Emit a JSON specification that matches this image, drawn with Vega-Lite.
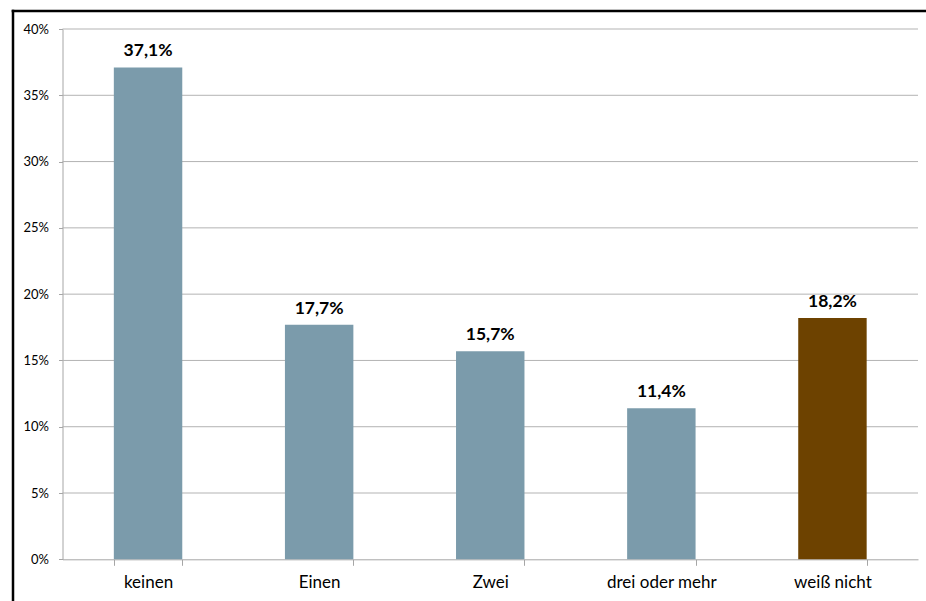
{
  "$schema": "https://vega.github.io/schema/vega-lite/v6.json",
  "width": 913,
  "height": 590,
  "autosize": {"type": "none"},
  "padding": {"left": 13, "top": 11, "right": 0, "bottom": 0},
  "background": "white",
  "view": {"stroke": null},
  "config": {
    "view": {"stroke": null},
    "locale": {"number": {"decimal": ",", "thousands": ".", "grouping": [3], "currency": ["", " €"]}},
    "font": "Lato"
  },
  "layer": [
    {
      "layer": [
        {
          "data": {"values": [{"g": 0.05}, {"g": 0.1}, {"g": 0.15}, {"g": 0.2}, {"g": 0.25}, {"g": 0.3}, {"g": 0.35}, {"g": 0.4}]},
          "mark": {"type": "rule", "color": "#b3b3b3", "strokeWidth": 1},
          "encoding": {
            "y": {"field": "g", "type": "quantitative", "scale": {"domain": [0, 0.4], "range": [548.3, 18], "nice": false, "zero": false}, "axis": null},
            "x": {"datum": 0, "type": "quantitative", "scale": {"domain": [0, 1], "range": [49.5, 905], "nice": false, "zero": false}, "axis": null},
            "x2": {"datum": 1}
          }
        },
        {
          "data": {"values": [{}]},
          "mark": {"type": "rule", "color": "#000000", "strokeWidth": 2.5, "strokeCap": "butt"},
          "encoding": {
            "y": {"datum": 0.413577, "type": "quantitative"},
            "x": {"datum": -0.0594, "type": "quantitative"},
            "x2": {"datum": 1.03}
          }
        },
        {
          "data": {"values": [{}]},
          "mark": {"type": "rule", "color": "#000000", "strokeWidth": 2.5, "strokeCap": "butt"},
          "encoding": {
            "x": {"datum": -0.05786, "type": "quantitative"},
            "y": {"datum": 0.4145, "type": "quantitative"},
            "y2": {"datum": -0.04}
          }
        }
      ]
    },
    {
      "data": {"values": [
        {"kat": "keinen", "wert": 0.371},
        {"kat": "Einen", "wert": 0.177},
        {"kat": "Zwei", "wert": 0.157},
        {"kat": "drei oder mehr", "wert": 0.114},
        {"kat": "weiß nicht", "wert": 0.182}
      ]},
      "encoding": {
        "x": {
          "field": "kat", "type": "nominal", "sort": null,
          "scale": {"range": [49.5, 905], "paddingInner": 0.6, "paddingOuter": 0.3},
          "axis": {
            "orient": "bottom", "offset": -41.7, "title": null, "labelAngle": 0,
            "tickBand": "extent", "domainColor": "#a6a6a6", "tickColor": "#a6a6a6",
            "tickSize": 6, "labelFontSize": 17, "labelColor": "#000000", "labelPadding": 9, "labelFont": "Lato"
          }
        },
        "y": {
          "field": "wert", "type": "quantitative",
          "scale": {"domain": [0, 0.4], "range": [548.3, 18], "nice": false},
          "axis": {
            "orient": "left", "offset": -49.5, "title": null, "format": ".0%",
            "values": [0, 0.05, 0.1, 0.15, 0.2, 0.25, 0.3, 0.35, 0.4],
            "grid": false, "domainColor": "#a6a6a6", "tickColor": "#a6a6a6", "tickSize": 4,
            "labelPadding": 10, "labelFontSize": 13, "labelColor": "#000000", "labelFont": "Lato"
          }
        }
      },
      "layer": [
        {
          "mark": {"type": "bar"},
          "encoding": {
            "color": {
              "field": "kat", "type": "nominal", "legend": null,
              "scale": {"domain": ["keinen", "Einen", "Zwei", "drei oder mehr", "weiß nicht"], "range": ["#7B9BAB", "#7B9BAB", "#7B9BAB", "#7B9BAB", "#6D4200"]}
            }
          }
        },
        {
          "mark": {"type": "text", "fontWeight": "bold", "fontSize": 17.5, "dy": -11, "baseline": "alphabetic", "color": "#000000", "font": "Lato"},
          "encoding": {
            "text": {"field": "wert", "type": "quantitative", "format": ".1%"}
          }
        }
      ]
    }
  ],
  "resolve": {"scale": {"x": "independent", "y": "independent"}}
}
